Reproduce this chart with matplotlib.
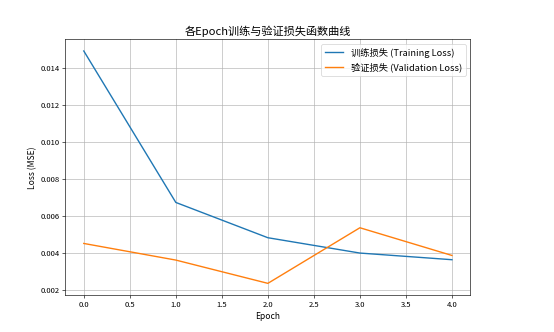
import matplotlib
matplotlib.use("Agg")
import matplotlib.pyplot as plt

plt.rcParams['font.family'] = ['Noto Sans CJK SC', 'DejaVu Sans']
plt.rcParams['axes.unicode_minus'] = False

epochs = [0, 1, 2, 3, 4]
train_loss = [0.01492, 0.00672, 0.00481, 0.00398, 0.00362]
val_loss = [0.00450, 0.00360, 0.00234, 0.00535, 0.00385]

fig = plt.figure(figsize=(10, 6), dpi=55.4)
ax = fig.add_axes([0.118, 0.1114, 0.731, 0.769])

ax.plot(epochs, train_loss, label='训练损失 (Training Loss)', linewidth=1.8)
ax.plot(epochs, val_loss, label='验证损失 (Validation Loss)', linewidth=1.8)

ax.set_title('各Epoch训练与验证损失函数曲线', fontsize=14.5)
ax.set_xlabel('Epoch', fontsize=11)
ax.set_ylabel('Loss (MSE)', fontsize=11)
ax.tick_params(labelsize=10)
ax.grid(True)
ax.legend(fontsize=12)

fig.savefig('out.png', dpi=55.4)
